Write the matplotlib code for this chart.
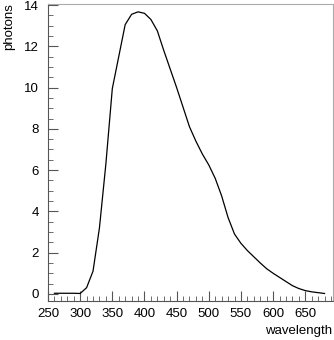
import matplotlib
matplotlib.use("Agg")
import matplotlib.pyplot as plt
from matplotlib.ticker import MultipleLocator

wavelength = [260, 270, 280, 290, 300, 310, 320, 330, 340, 350, 360, 370, 380, 390,
              400, 410, 420, 430, 440, 450, 460, 470, 480, 490, 500, 510, 520, 530,
              540, 550, 560, 570, 580, 590, 600, 610, 620, 630, 640, 650, 660, 670, 680]
photons = [0.03, 0.03, 0.03, 0.03, 0.02, 0.3, 1.1, 3.2, 6.3, 9.95, 11.5, 13.05, 13.55, 13.67,
           13.6, 13.3, 12.75, 11.8, 10.9, 10.0, 9.05, 8.1, 7.4, 6.78, 6.25, 5.6, 4.75, 3.7,
           2.9, 2.45, 2.1, 1.8, 1.5, 1.22, 1.0, 0.8, 0.6, 0.4, 0.26, 0.16, 0.1, 0.06, 0.02]

plt.rcParams['font.family'] = ['Liberation Sans', 'DejaVu Sans']
fig = plt.figure(figsize=(3.34, 3.40), dpi=100)
ax = fig.add_axes([0.1437, 0.1156, 0.853, 0.8714])
ax.plot(wavelength, photons, color='black', lw=0.9)
ax.set_xlim(250, 693)
ax.set_ylim(-0.33, 14.03)
ax.xaxis.set_major_locator(MultipleLocator(50))
ax.xaxis.set_minor_locator(MultipleLocator(10))
ax.yaxis.set_major_locator(MultipleLocator(2))
ax.yaxis.set_minor_locator(MultipleLocator(0.5))
ax.tick_params(which='both', direction='in', top=False, right=False, labelsize=9.5,
               color='#555555')
ax.tick_params(axis='y', pad=6.5)
ax.tick_params(axis='x', pad=5.5)
ax.tick_params(which='major', length=7)
ax.tick_params(which='minor', length=3.5)
for s in ['left', 'bottom']:
    ax.spines[s].set_color('#555555')
for s in ['top', 'right']:
    ax.spines[s].set_color('#aaaaaa')
for s in ax.spines.values():
    s.set_linewidth(0.8)
fig.text(0.008, 0.992, 'photons', rotation=90, ha='left', va='top', fontsize=9.5)
fig.text(0.994, 0.008, 'wavelength', ha='right', va='bottom', fontsize=9.5)
fig.savefig('out.png', dpi=100)
